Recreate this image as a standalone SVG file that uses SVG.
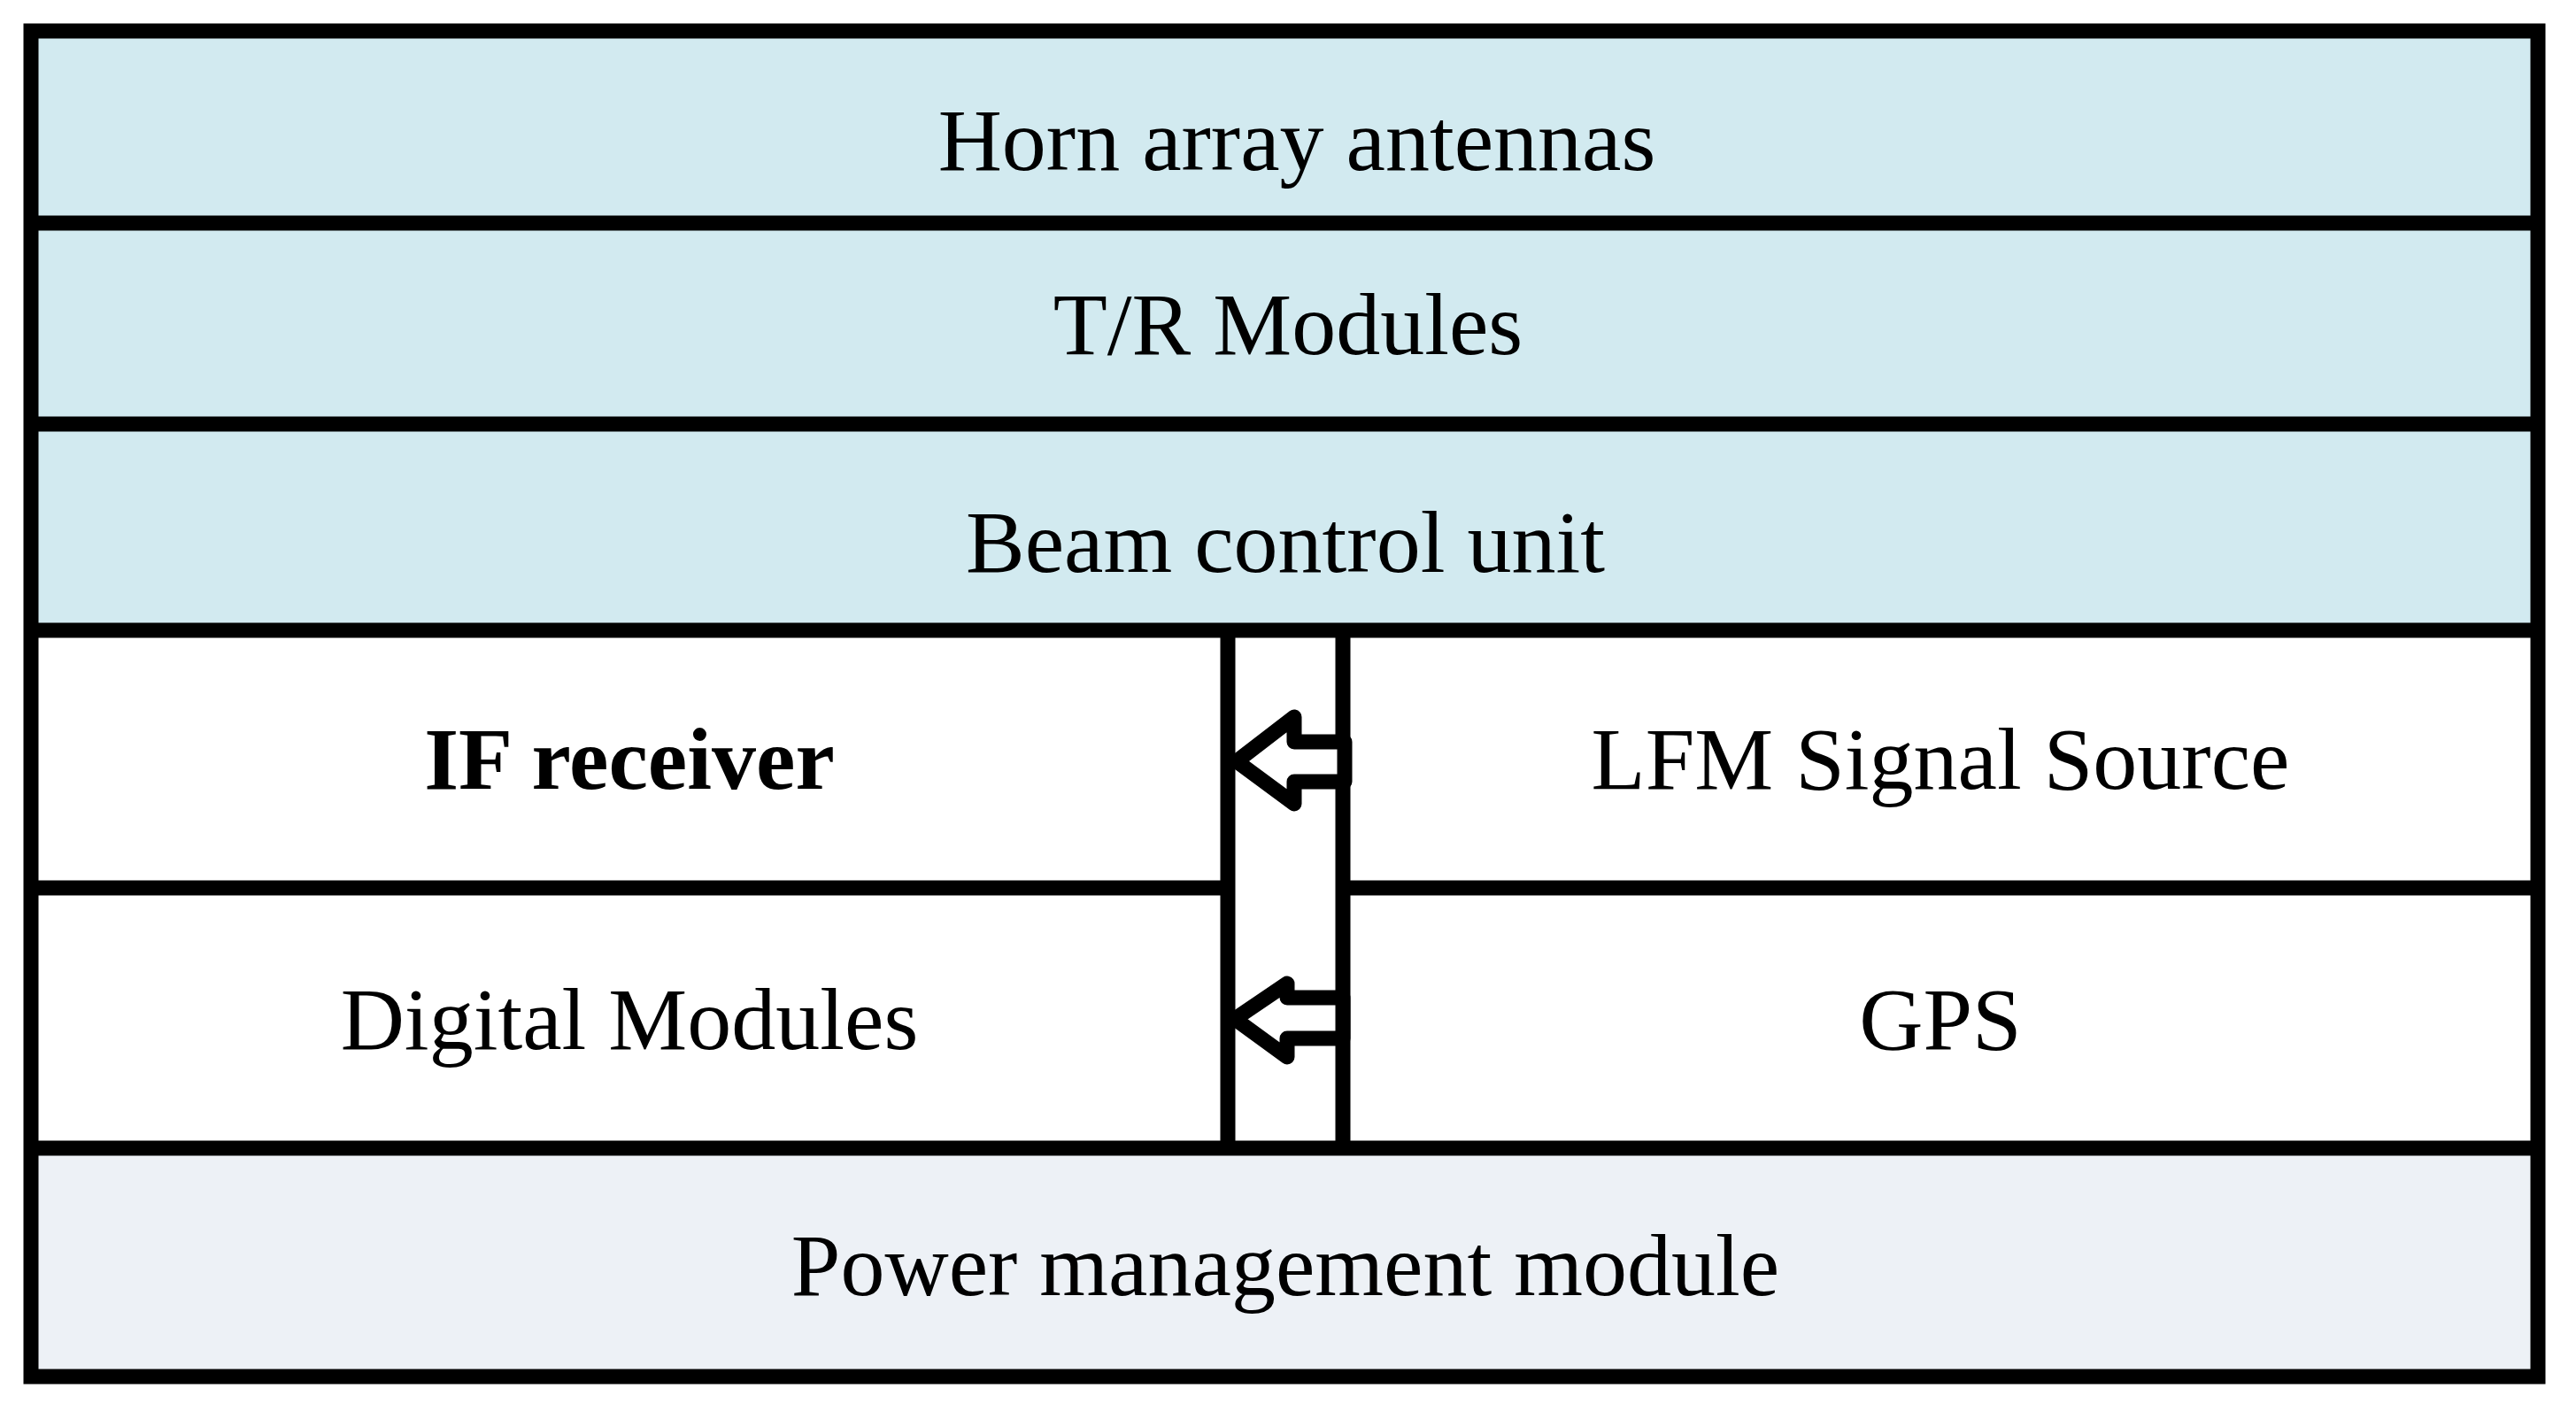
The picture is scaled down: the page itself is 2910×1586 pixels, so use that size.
<svg xmlns="http://www.w3.org/2000/svg" width="2910" height="1586" viewBox="0 0 2910 1586">
<style>
.l{stroke:#000;stroke-width:17;fill:none;}
.a{stroke:#000;stroke-width:17;fill:#fff;stroke-linejoin:round;}
text{font-family:"Liberation Serif",serif;font-size:100px;text-anchor:middle;fill:#000}
</style>
<rect x="0" y="0" width="2910" height="1586" fill="#fff"/>
<g id="horn"><rect x="35" y="35" width="2832" height="217" fill="#d2eaf0"/><text x="1465" y="192">Horn array antennas</text></g>
<g id="tr"><rect x="35" y="252" width="2832" height="227" fill="#d2eaf0"/><text x="1455" y="400">T/R Modules</text></g>
<g id="beam"><rect x="35" y="479" width="2832" height="233" fill="#d2eaf0"/><text x="1452" y="646">Beam control unit</text></g>
<g id="if"><rect x="35" y="712" width="1352" height="291" fill="#fff"/><text x="711" y="891" font-weight="bold">IF receiver</text></g>
<g id="lfm"><rect x="1517" y="712" width="1350" height="291" fill="#fff"/><text x="2192" y="891">LFM Signal Source</text></g>
<g id="digital"><rect x="35" y="1003" width="1352" height="294" fill="#fff"/><text x="711" y="1185">Digital Modules</text></g>
<g id="gps"><rect x="1517" y="1003" width="1350" height="294" fill="#fff"/><text x="2192" y="1185">GPS</text></g>
<g id="power"><rect x="35" y="1297" width="2832" height="258" fill="#edf1f6"/><text x="1452" y="1463">Power management module</text></g>
<g id="lines">
<rect class="l" x="35" y="35" width="2832" height="1520"/>
<line class="l" x1="35" y1="252" x2="2867" y2="252"/>
<line class="l" x1="35" y1="479" x2="2867" y2="479"/>
<line class="l" x1="35" y1="712" x2="2867" y2="712"/>
<line class="l" x1="35" y1="1003" x2="1387" y2="1003"/>
<line class="l" x1="1517" y1="1003" x2="2867" y2="1003"/>
<line class="l" x1="35" y1="1297" x2="2867" y2="1297"/>
<line class="l" x1="1387" y1="712" x2="1387" y2="1297"/>
<line class="l" x1="1517" y1="712" x2="1517" y2="1297"/>
</g>
<g id="connectors">
<path class="a" d="M1397 860 L1462 810 L1462 838 L1519 838 L1519 883 L1462 883 L1462 908 Z"/>
<path class="a" d="M1395 1151 L1454 1111 L1454 1127 L1517 1127 L1517 1173 L1454 1173 L1454 1194 Z"/>
</g>
</svg>
